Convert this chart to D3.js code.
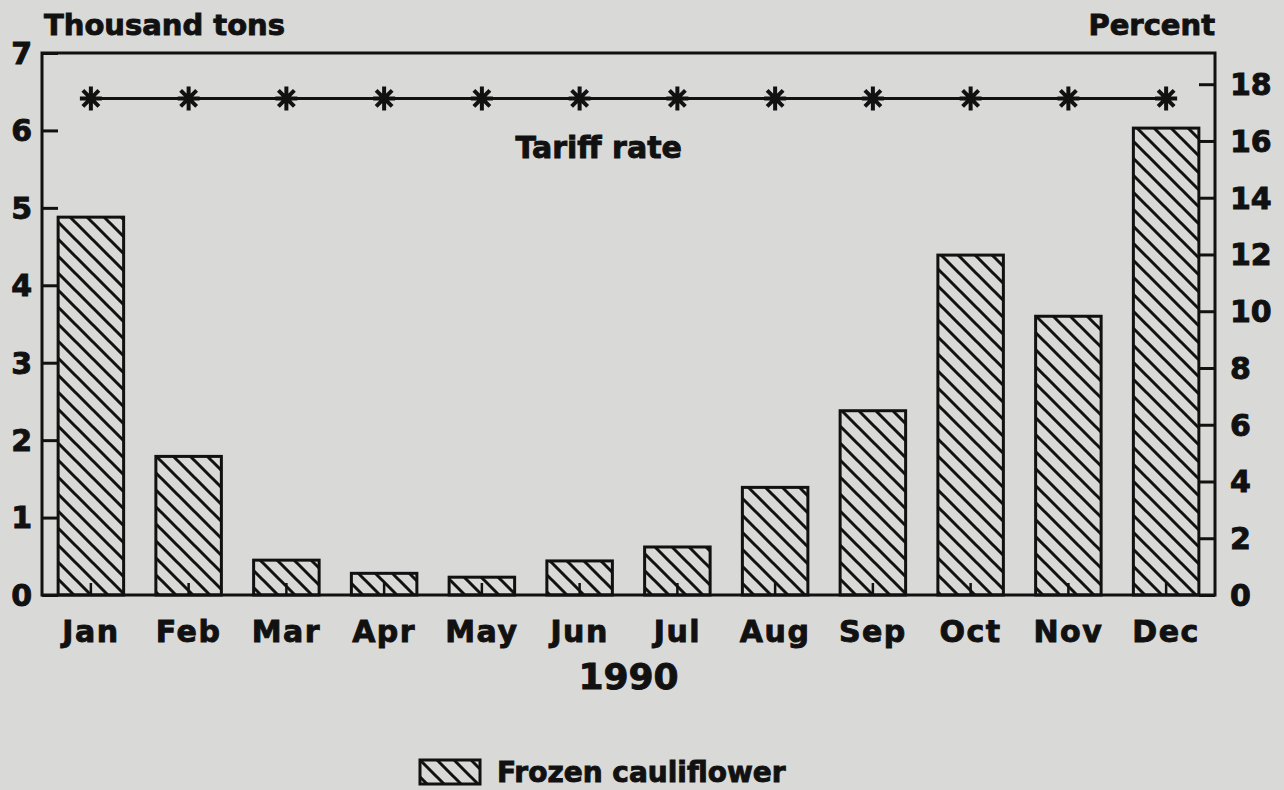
<!DOCTYPE html>
<html>
<head>
<meta charset="utf-8">
<script src="https://cdn.jsdelivr.net/npm/d3@7"></script>
<style>
	html, body { margin: 0; padding: 0; background: #d9d9d8; }
	svg text { font-family: "DejaVu Sans", sans-serif; font-weight: bold; fill: #111; stroke: #111; stroke-width: 0.9px; }
</style>
</head>
<body>
<div id="chart"></div>
<script>
const months = ["Jan", "Feb", "Mar", "Apr", "May", "Jun", "Jul", "Aug", "Sep", "Oct", "Nov", "Dec"];
const cauliflower = [4.88, 1.79, 0.45, 0.28, 0.23, 0.44, 0.62, 1.39, 2.38, 4.39, 3.6, 6.03];
const tariffRate = [17.5, 17.5, 17.5, 17.5, 17.5, 17.5, 17.5, 17.5, 17.5, 17.5, 17.5, 17.5];
const leftTicks = [0, 1, 2, 3, 4, 5, 6, 7];
const rightTicks = [0, 2, 4, 6, 8, 10, 12, 14, 16, 18];

const fullWidth = 1284, fullHeight = 790;
const margin = { top: 53, right: 69, bottom: 195, left: 42 };
const width = fullWidth - margin.left - margin.right;
const height = fullHeight - margin.top - margin.bottom;
const ink = "#111";

const svg = d3.select("#chart")
	.append("svg")
	.attr("width", fullWidth)
	.attr("height", fullHeight);

// hatch for the bars
svg.append("defs")
	.append("pattern")
	.attr("id", "hatch")
	.attr("patternUnits", "userSpaceOnUse")
	.attr("width", 17)
	.attr("height", 17)
	.call(p => {
		p.append("rect").attr("width", 17).attr("height", 17).attr("fill", "#d9d9d8");
		p.append("path")
			.attr("d", "M-4,-4 L21,21 M-4,13 L4,21 M13,-4 L21,4")
			.attr("stroke", ink)
			.attr("stroke-width", 3);
	});

const g = svg.append("g")
	.attr("transform", "translate(" + margin.left + "," + margin.top + ")");

const x = d3.scaleBand()
	.domain(months)
	.range([0, width])
	.paddingInner(0.33)
	.paddingOuter(0.165);
const yLeft = d3.scaleLinear().domain([0, 7]).range([height, 0]);
const yRight = d3.scaleLinear().domain([0, 19.1]).range([height, 0]);

// Bars
g.selectAll("rect.bar")
	.data(cauliflower)
	.enter()
	.append("rect")
	.classed("bar", true)
	.attr("x", (d, i) => x(months[i]))
	.attr("y", d => yLeft(d))
	.attr("width", x.bandwidth())
	.attr("height", d => height - yLeft(d))
	.attr("fill", "url(#hatch)")
	.attr("stroke", ink)
	.attr("stroke-width", 3);

// Frame
g.append("rect")
	.attr("width", width)
	.attr("height", height)
	.attr("fill", "none")
	.attr("stroke", ink)
	.attr("stroke-width", 3);

// Left axis, ticks pointing in
const leftAxis = d3.axisRight(yLeft).tickValues(leftTicks).tickSize(16).tickFormat("");
g.append("g").call(leftAxis).call(a => a.select(".domain").remove())
	.selectAll("line").attr("stroke", ink).attr("stroke-width", 3);
g.selectAll("text.yl")
	.data(leftTicks)
	.enter()
	.append("text")
	.classed("yl", true)
	.attr("x", -10)
	.attr("y", d => yLeft(d))
	.attr("dy", "0.36em")
	.attr("text-anchor", "end")
	.style("font-size", "30px")
	.text(d => d);

// Right axis, ticks pointing in
const rightAxis = d3.axisLeft(yRight).tickValues(rightTicks).tickSize(16).tickFormat("");
g.append("g").attr("transform", "translate(" + width + ",0)").call(rightAxis)
	.call(a => a.select(".domain").remove())
	.selectAll("line").attr("stroke", ink).attr("stroke-width", 3);
g.selectAll("text.yr")
	.data(rightTicks)
	.enter()
	.append("text")
	.classed("yr", true)
	.attr("x", width + 15)
	.attr("y", d => yRight(d))
	.attr("dy", "0.36em")
	.attr("text-anchor", "start")
	.style("font-size", "30px")
	.text(d => d);

// X axis: small ticks at the band centres and month labels
const xAxis = d3.axisTop(x).tickSize(12).tickFormat("");
g.append("g").attr("transform", "translate(0," + height + ")").call(xAxis)
	.call(a => a.select(".domain").remove())
	.selectAll("line").attr("stroke", ink).attr("stroke-width", 2.5);
g.selectAll("text.month")
	.data(months)
	.enter()
	.append("text")
	.classed("month", true)
	.attr("x", d => x(d) + x.bandwidth() / 2)
	.attr("y", height + 47)
	.attr("text-anchor", "middle")
	.style("font-size", "30px")
	.style("letter-spacing", "1.5px")
	.text(d => d);

// Tariff line on the right scale
const cx = i => x(months[i]) + x.bandwidth() / 2;
g.append("path")
	.datum(tariffRate)
	.attr("d", d3.line().x((d, i) => cx(i)).y(d => yRight(d)))
	.attr("fill", "none")
	.attr("stroke", ink)
	.attr("stroke-width", 3);
const star = g.selectAll("g.star")
	.data(tariffRate)
	.enter()
	.append("g")
	.classed("star", true)
	.attr("transform", (d, i) => "translate(" + cx(i) + "," + yRight(d) + ")");
star.append("path")
	.attr("d", "M-11,0L11,0M0,-12L0,12M-8,-8L8,8M-8,8L8,-8")
	.attr("stroke", ink)
	.attr("stroke-width", 4);

g.append("text")
	.attr("x", cx(5) + 19)
	.attr("y", 105)
	.attr("text-anchor", "middle")
	.style("font-size", "30px")
	.text("Tariff rate");

// Axis titles
svg.append("text")
	.attr("x", 44)
	.attr("y", 35)
	.style("font-size", "29px")
	.text("Thousand tons");
svg.append("text")
	.attr("x", margin.left + width)
	.attr("y", 35)
	.attr("text-anchor", "end")
	.style("font-size", "29px")
	.text("Percent");

svg.append("text")
	.attr("x", margin.left + width / 2)
	.attr("y", 689)
	.attr("text-anchor", "middle")
	.style("font-size", "36px")
	.text("1990");

// Legend
const legend = svg.append("g").attr("transform", "translate(420,760)");
legend.append("rect")
	.attr("width", 60)
	.attr("height", 24)
	.attr("fill", "url(#hatch)")
	.attr("stroke", ink)
	.attr("stroke-width", 3);
legend.append("text")
	.attr("x", 77)
	.attr("y", 22)
	.style("font-size", "28px")
	.text("Frozen cauliflower");
</script>
</body>
</html>
